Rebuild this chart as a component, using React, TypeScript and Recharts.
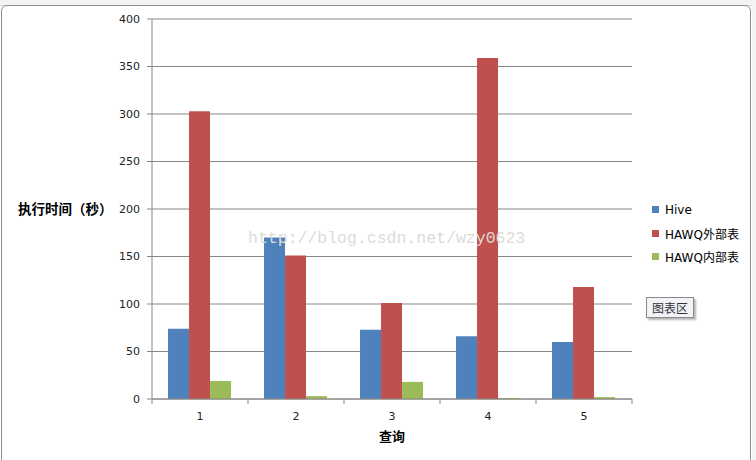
import { BarChart, Bar, XAxis, YAxis, CartesianGrid } from "recharts";

const queries = ["1", "2", "3", "4", "5"];
const hive = [74, 170, 73, 66, 60];
const hawqExternal = [303, 151, 101, 359, 118];
const hawqInternal = [19, 3, 18, 1, 2];
const yTicks = [0, 50, 100, 150, 200, 250, 300, 350, 400];

const data = queries.map((q, i) => ({
  query: q,
  Hive: hive[i],
  "HAWQ外部表": hawqExternal[i],
  "HAWQ内部表": hawqInternal[i],
}));

const series = [
  { key: "Hive", color: "#4F81BD" },
  { key: "HAWQ外部表", color: "#C0504D" },
  { key: "HAWQ内部表", color: "#9BBB59" },
];

const W = 756;
const H = 460;
const PLOT_LEFT = 152;
const PLOT_RIGHT = 632;
const PLOT_TOP = 19;
const PLOT_BOTTOM = 399;
const FONT = '"DejaVu Sans", "Noto Sans CJK SC", sans-serif';
const halfBand = (PLOT_RIGHT - PLOT_LEFT) / queries.length / 2;

// category tick: label in the middle, tick marks at the band edges
const QueryTick = (props: any) => {
  const { x, y, payload, index } = props;
  const last = index === queries.length - 1;
  return (
    <g>
      <line x1={x - halfBand} x2={x - halfBand} y1={PLOT_BOTTOM} y2={PLOT_BOTTOM + 5} stroke="#868686" />
      {last && <line x1={x + halfBand} x2={x + halfBand} y1={PLOT_BOTTOM} y2={PLOT_BOTTOM + 5} stroke="#868686" />}
      <text x={x} y={y + 13} textAnchor="middle" fontSize={11} fill="#222" fontFamily={FONT}>
        {payload.value}
      </text>
    </g>
  );
};

export default function App() {
  return (
    <div style={{ position: "absolute", left: 0, top: 0, width: W, height: H, background: "#fff", overflow: "hidden" }}>
      {/* sheet strip behind the chart frame */}
      <div style={{ position: "absolute", left: 0, top: 0, width: W, height: 5, background: "#f3f3f3", borderBottom: "1px solid #d6d6d6" }} />
      <div style={{ position: "absolute", left: 752, top: 0, width: 4, height: H, background: "#f3f3f3" }} />
      <div
        style={{
          position: "absolute",
          left: 1,
          top: 5,
          width: 750,
          height: H,
          border: "1px solid #8c8c8c",
          borderTopLeftRadius: 6,
          borderTopRightRadius: 6,
          boxSizing: "border-box",
        }}
      />
      <div style={{ position: "absolute", left: 0, top: 0 }}>
        <BarChart
          width={W}
          height={H}
          data={data}
          margin={{ top: PLOT_TOP, right: W - PLOT_RIGHT, bottom: 0, left: 0 }}
          barCategoryGap="16.7%"
          barGap={0}
        >
          <CartesianGrid vertical={false} stroke="#868686" strokeWidth={1} />
          <XAxis
            dataKey="query"
            height={H - PLOT_BOTTOM}
            axisLine={{ stroke: "#868686" }}
            tickLine={false}
            tick={<QueryTick />}
            interval={0}
            label={{
              value: "查询",
              position: "insideBottom",
              offset: 19,
              style: { fontFamily: FONT, fontSize: 13, fontWeight: "bold", fill: "#000" },
            }}
          />
          <YAxis
            width={PLOT_LEFT}
            domain={[0, 400]}
            ticks={yTicks}
            axisLine={{ stroke: "#868686" }}
            tickLine={{ stroke: "#868686" }}
            tickSize={5}
            tickMargin={7}
            tick={{ fontSize: 11, fill: "#222", fontFamily: FONT }}
            label={{
              value: "执行时间（秒）",
              position: "insideLeft",
              offset: 18,
              angle: 0,
              style: { fontFamily: FONT, fontSize: 13.5, fontWeight: "bold", fill: "#000", textAnchor: "start" },
            }}
          />
          {series.map((s) => (
            <Bar key={s.key} dataKey={s.key} fill={s.color} isAnimationActive={false} />
          ))}
        </BarChart>
      </div>
      {/* legend */}
      <div style={{ position: "absolute", left: 652, top: 198, fontFamily: FONT, fontSize: 12, color: "#000" }}>
        {series.map((s) => (
          <div key={s.key} style={{ display: "flex", alignItems: "center", height: 23.5, whiteSpace: "nowrap" }}>
            <span style={{ width: 7, height: 7, background: s.color, marginRight: 6, display: "inline-block" }} />
            {s.key}
          </div>
        ))}
      </div>
      {/* watermark */}
      <div
        style={{
          position: "absolute",
          left: 248,
          top: 229,
          fontFamily: '"Liberation Mono", monospace',
          fontSize: 16.5,
          color: "#dcdcd6",
          whiteSpace: "nowrap",
          pointerEvents: "none",
        }}
      >
        http://blog.csdn.net/wzy0623
      </div>
      {/* hover tip box */}
      <div
        style={{
          position: "absolute",
          left: 646,
          top: 297,
          width: 48,
          height: 21,
          boxSizing: "border-box",
          border: "1px solid #8a8a8a",
          background: "#f2f3f8",
          boxShadow: "2px 2px 2px #b5b5b5",
          fontFamily: '"Noto Sans CJK SC", sans-serif',
          fontSize: 12,
          color: "#333",
          textAlign: "center",
          lineHeight: "19px",
        }}
      >
        图表区
      </div>
    </div>
  );
}
